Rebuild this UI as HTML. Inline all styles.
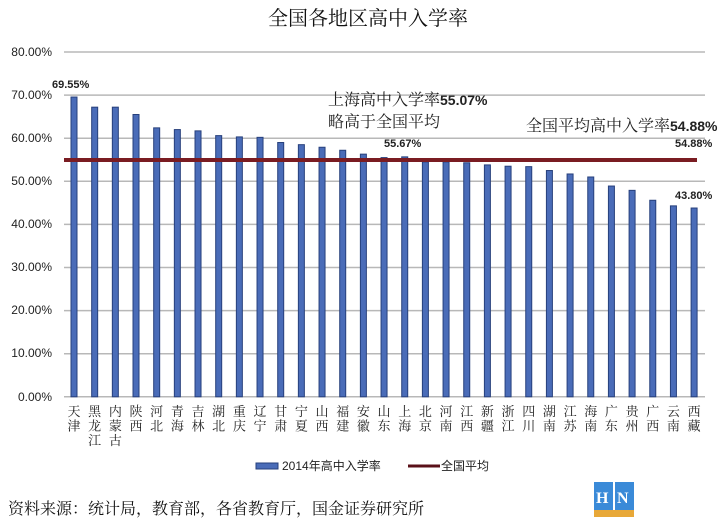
<!DOCTYPE html>
<html><head><meta charset="utf-8"><style>
body{margin:0;background:#fff;}
svg text{font-family:"Liberation Sans","Noto Sans CJK SC",sans-serif;}
svg text.s{font-family:"Liberation Serif","Noto Serif CJK SC",serif;}
</style></head><body>
<svg width="728" height="522" xmlns="http://www.w3.org/2000/svg">
<rect width="728" height="522" fill="#fff"/>
<text class="s" x="368" y="25" font-size="20" text-anchor="middle" fill="#111">全国各地区高中入学率</text>
<g stroke="#b8b8b8" stroke-width="1.5">
<line x1="64" x2="705" y1="52" y2="52"/><line x1="64" x2="705" y1="95.1" y2="95.1"/><line x1="64" x2="705" y1="138.2" y2="138.2"/><line x1="64" x2="705" y1="181.3" y2="181.3"/><line x1="64" x2="705" y1="224.4" y2="224.4"/><line x1="64" x2="705" y1="267.5" y2="267.5"/><line x1="64" x2="705" y1="310.6" y2="310.6"/><line x1="64" x2="705" y1="353.7" y2="353.7"/><line x1="64" x2="705" y1="396.8" y2="396.8"/>
</g>
<g font-size="12" fill="#222" text-anchor="end">
<text x="52" y="56">80.00%</text><text x="52" y="99">70.00%</text><text x="52" y="142">60.00%</text><text x="52" y="185">50.00%</text><text x="52" y="228">40.00%</text><text x="52" y="271">30.00%</text><text x="52" y="314">20.00%</text><text x="52" y="357">10.00%</text><text x="52" y="401">0.00%</text>
</g>
<g id="bars" fill="#4a6cb8" stroke="#27407c" stroke-width="1"></g>
<line x1="64" x2="697" y1="160" y2="160" stroke="#7a1c22" stroke-width="4"/>
<g font-size="11" font-weight="bold" fill="#222">
<text x="52" y="88">69.55%</text>
<text x="384" y="147">55.67%</text>
<text x="675" y="147">54.88%</text>
<text x="675" y="199">43.80%</text>
</g>
<text class="s" x="328" y="105" font-size="16" fill="#222">上海高中入学率<tspan style="font-family:'Liberation Sans',sans-serif" font-weight="bold" font-size="14">55.07%</tspan></text>
<text class="s" x="328" y="127" font-size="16" fill="#222">略高于全国平均</text>
<text class="s" x="526" y="131" font-size="16" fill="#222">全国平均高中入学率<tspan style="font-family:'Liberation Sans',sans-serif" font-weight="bold" font-size="14">54.88%</tspan></text>
<g id="labels" font-size="13" fill="#222" text-anchor="middle"></g>
<rect x="256" y="463" width="22" height="6" fill="#4a6cb8" stroke="#27407c"/>
<text x="282" y="470" font-size="12" fill="#222">2014年高中入学率</text>
<line x1="408" x2="440" y1="466" y2="466" stroke="#5a1018" stroke-width="3"/>
<text x="441" y="470" font-size="12" fill="#222">全国平均</text>
<text class="s" x="8" y="514" font-size="16" fill="#111">资料来源：统计局，教育部，各省教育厅，国金证券研究所</text>
<rect x="594" y="482" width="19" height="28" fill="#3a8ad8"/><rect x="615" y="482" width="19" height="28" fill="#3a8ad8"/>
<rect x="594" y="510" width="40" height="7" fill="#e8a838"/>
<text x="596" y="503" font-size="16" font-weight="bold" fill="#fff" class="s">H</text><text x="617" y="503" font-size="16" font-weight="bold" fill="#fff" class="s">N</text>
</svg>
<script>
var v=[69.55,67.2,67.2,65.5,62.4,62,61.7,60.6,60.3,60.2,59,58.5,57.9,57.2,56.3,55.5,55.67,54.5,54.5,54.3,53.8,53.5,53.4,52.5,51.7,51,48.9,47.9,45.6,44.3,43.8];
var n=["天津","黑龙江","内蒙古","陕西","河北","青海","吉林","湖北","重庆","辽宁","甘肃","宁夏","山西","福建","安徽","山东","上海","北京","河南","江西","新疆","浙江","四川","湖南","江苏","海南","广东","贵州","广西","云南","西藏"];
var b=document.getElementById("bars"),l=document.getElementById("labels"),ns="http://www.w3.org/2000/svg";
for(var i=0;i<31;i++){var x=74+i*20.67;var r=document.createElementNS(ns,"rect");var h=v[i]*4.31;
r.setAttribute("x",x-3);r.setAttribute("y",396.8-h);r.setAttribute("width",6);r.setAttribute("height",h);b.appendChild(r);
for(var j=0;j<n[i].length;j++){var t=document.createElementNS(ns,"text");t.setAttribute("x",x);t.setAttribute("y",416+j*14.5);t.setAttribute("class","s");t.textContent=n[i][j];l.appendChild(t);}}
</script>
</body></html>
